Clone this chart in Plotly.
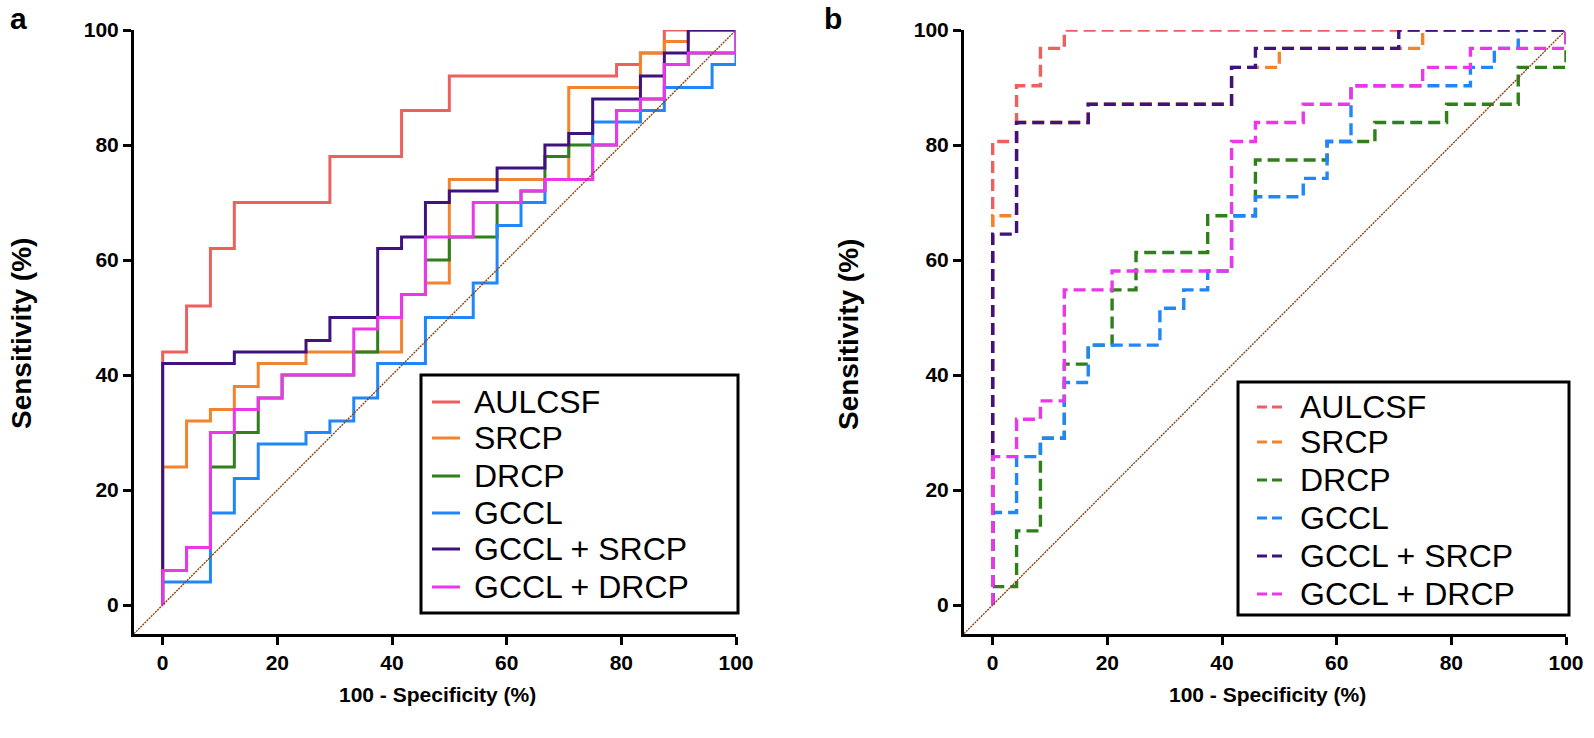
import plotly.graph_objects as go

W, H = 1594, 738

# ---------------- data ----------------
names = ["AULCSF", "SRCP", "DRCP", "GCCL", "GCCL + SRCP", "GCCL + DRCP"]
colors = ["#EE605E", "#F3832C", "#2F7F1B", "#1F87FA", "#3E1380", "#EC36EC"]

# panel a  (x = 100 - specificity %, y = sensitivity %)
a_aulcsf_x = [0, 0, 4.17, 8.33, 12.5, 29.17, 41.67, 50, 79.17, 83.33, 87.5, 100]
a_aulcsf_y = [0, 44, 52, 62, 70, 78, 86, 92, 94, 96, 100, 100]
a_srcp_x = [0, 0, 4.17, 8.33, 12.5, 16.67, 25, 41.67, 45.83, 50, 70.83, 83.33, 87.5, 91.67, 100]
a_srcp_y = [0, 24, 32, 34, 38, 42, 44, 54, 56, 74, 90, 96, 98, 100, 100]
a_drcp_x = [0, 0, 4.17, 8.33, 12.5, 16.67, 20.83, 33.33, 37.5, 41.67, 45.83, 50, 58.33, 62.5, 66.67, 70.83, 79.17, 83.33, 87.5, 91.67, 100]
a_drcp_y = [0, 6, 10, 24, 30, 36, 40, 44, 50, 54, 60, 64, 70, 72, 78, 80, 86, 88, 94, 96, 100]
a_gccl_x = [0, 0, 8.33, 12.5, 16.67, 25, 29.17, 33.33, 37.5, 45.83, 54.17, 58.33, 62.5, 66.67, 75, 83.33, 87.5, 95.83, 100, 100]
a_gccl_y = [0, 4, 16, 22, 28, 30, 32, 36, 42, 50, 56, 66, 70, 74, 84, 86, 90, 94, 96, 100]
a_gs_x = [0, 0, 12.5, 25, 29.17, 37.5, 41.67, 45.83, 50, 58.33, 66.67, 70.83, 75, 83.33, 87.5, 91.67, 100]
a_gs_y = [0, 42, 44, 46, 50, 62, 64, 70, 72, 76, 80, 82, 88, 92, 96, 100, 100]
a_gd_x = [0, 0, 4.17, 8.33, 12.5, 16.67, 20.83, 33.33, 37.5, 41.67, 45.83, 54.17, 62.5, 66.67, 75, 79.17, 83.33, 87.5, 91.67, 100]
a_gd_y = [0, 6, 10, 30, 34, 36, 40, 48, 50, 54, 64, 70, 72, 74, 80, 86, 88, 94, 96, 100]

# panel b
b_aulcsf_x = [0, 0, 4.17, 8.33, 12.5, 100]
b_aulcsf_y = [0, 80.6, 90.3, 96.8, 100, 100]
b_srcp_x = [0, 0, 4.17, 16.67, 41.67, 50, 75, 100]
b_srcp_y = [0, 67.7, 83.9, 87.1, 93.5, 96.8, 100, 100]
b_drcp_x = [0, 0, 4.17, 8.33, 12.5, 16.67, 20.83, 25, 37.5, 45.83, 58.33, 66.67, 79.17, 91.67, 100]
b_drcp_y = [0, 3.2, 12.9, 29.0, 41.9, 45.2, 54.8, 61.3, 67.7, 77.4, 80.6, 83.9, 87.1, 93.5, 100]
b_gccl_x = [0, 0, 4.17, 8.33, 12.5, 16.67, 29.17, 33.33, 37.5, 41.67, 45.83, 54.17, 58.33, 62.5, 83.33, 87.5, 91.67, 100]
b_gccl_y = [0, 16.1, 25.8, 29.0, 38.7, 45.2, 51.6, 54.8, 58.1, 67.7, 71.0, 74.2, 80.6, 90.3, 93.5, 96.8, 100, 100]
b_gs_x = [0, 0, 4.17, 16.67, 41.67, 45.83, 70.83, 100]
b_gs_y = [0, 64.5, 83.9, 87.1, 93.5, 96.8, 100, 100]
b_gd_x = [0, 0, 4.17, 8.33, 12.5, 20.83, 41.67, 45.83, 54.17, 62.5, 75, 83.33, 100]
b_gd_y = [0, 25.8, 32.3, 35.5, 54.8, 58.1, 80.6, 83.9, 87.1, 90.3, 93.5, 96.8, 100]

ref_x = [-5, 100]
ref_y = [-5, 100]

tick_vals = [0, 20, 40, 60, 80, 100]
x_title = "100 - Specificity (%)"
y_title = "Sensitivity (%)"
panel_labels = ["a", "b"]

panel_a = [(a_aulcsf_x, a_aulcsf_y), (a_srcp_x, a_srcp_y), (a_drcp_x, a_drcp_y),
           (a_gccl_x, a_gccl_y), (a_gs_x, a_gs_y), (a_gd_x, a_gd_y)]
panel_b = [(b_aulcsf_x, b_aulcsf_y), (b_srcp_x, b_srcp_y), (b_drcp_x, b_drcp_y),
           (b_gccl_x, b_gccl_y), (b_gs_x, b_gs_y), (b_gd_x, b_gd_y)]

FONT = "Liberation Sans, Arial, Helvetica, sans-serif"
DASH = "12px,6px"

fig = go.Figure()

for (xs, ys), name, c in zip(panel_a, names, colors):
    fig.add_trace(go.Scatter(x=xs, y=ys, mode="lines", name=name, line=dict(color=c, width=3, shape="hv"),
                             xaxis="x", yaxis="y", showlegend=False, hoverinfo="skip"))
fig.add_trace(go.Scatter(x=ref_x, y=ref_y, mode="lines", line=dict(color="#8B4513", width=1.4, dash="2px,1px"),
                         xaxis="x", yaxis="y", showlegend=False, hoverinfo="skip"))

for (xs, ys), name, c in zip(panel_b, names, colors):
    fig.add_trace(go.Scatter(x=xs, y=ys, mode="lines", name=name, line=dict(color=c, width=3.4, shape="hv", dash=DASH),
                             xaxis="x2", yaxis="y2", showlegend=False, hoverinfo="skip"))
fig.add_trace(go.Scatter(x=ref_x, y=ref_y, mode="lines", line=dict(color="#8B4513", width=1.4, dash="2px,1px"),
                         xaxis="x2", yaxis="y2", showlegend=False, hoverinfo="skip"))


def px(X):
    return X / W


def py(Y):
    return 1 - Y / H


ax_common = dict(range=[-5, 100], showline=True, linecolor="black", linewidth=3, ticks="outside",
                 ticklen=8, tickwidth=3, tickcolor="black", showgrid=False, zeroline=False,
                 tickvals=tick_vals, tickfont=dict(family=FONT, size=21, color="black", weight="bold"),
                 mirror=False, automargin=False, fixedrange=True)

xa_dom = [px(134), px(736)]
xb_dom = [px(964), px(1566)]
y_dom = [py(633.75), py(30)]

fig.update_layout(
    width=W, height=H, margin=dict(l=0, r=0, t=0, b=0, pad=0, autoexpand=False),
    paper_bgcolor="white", plot_bgcolor="white", showlegend=False,
    xaxis=dict(domain=xa_dom, anchor="y", **ax_common),
    yaxis=dict(domain=y_dom, anchor="x", **ax_common),
    xaxis2=dict(domain=xb_dom, anchor="y2", **ax_common),
    yaxis2=dict(domain=y_dom, anchor="x2", **ax_common),
)

annotations = []
shapes = []
# axis titles and panel labels
for dom, lab, lx in [(xa_dom, panel_labels[0], 18), (xb_dom, panel_labels[1], 833)]:
    annotations.append(dict(text=x_title, x=(dom[0] + dom[1]) / 2 + 2 / W, y=py(694), xref="paper", yref="paper",
                            showarrow=False, xanchor="center", yanchor="middle",
                            font=dict(family=FONT, size=21, color="black", weight="bold")))
    annotations.append(dict(text=lab, x=px(lx), y=py(18), xref="paper", yref="paper", showarrow=False,
                            xanchor="center", yanchor="middle",
                            font=dict(family=FONT, size=30, color="black", weight="bold")))
for X in [21, 848]:
    annotations.append(dict(text=y_title, x=px(X), y=py(334), xref="paper", yref="paper",
                            showarrow=False, textangle=-90, xanchor="center", yanchor="middle",
                            font=dict(family=FONT, size=28, color="black", weight="bold")))

# manual legends (box, line samples, labels)
legends = [
    dict(box=(421, 375, 738, 613), line=(432, 460), text_x=472, rows=[402, 438, 476, 513, 549, 587], dash=None),
    dict(box=(1238, 382, 1569, 615), line=(1257, 1287), text_x=1298, rows=[407, 442, 480, 518, 556, 594], dash="10px,5px"),
]
for lg in legends:
    x0, y0, x1, y1 = lg["box"]
    shapes.append(dict(type="rect", xref="paper", yref="paper", x0=px(x0), x1=px(x1), y0=py(y1), y1=py(y0),
                       line=dict(color="black", width=3), fillcolor="white", layer="above"))
    for name, c, Y in zip(names, colors, lg["rows"]):
        ln = dict(color=c, width=3)
        if lg["dash"]:
            ln["dash"] = lg["dash"]
        shapes.append(dict(type="line", xref="paper", yref="paper", x0=px(lg["line"][0]), x1=px(lg["line"][1]),
                           y0=py(Y), y1=py(Y), line=ln, layer="above"))
        annotations.append(dict(text=name, x=px(lg["text_x"]), y=py(Y), xref="paper", yref="paper",
                                showarrow=False, xanchor="left", yanchor="middle",
                                font=dict(family=FONT, size=32, color="black")))

fig.update_layout(annotations=annotations, shapes=shapes)
fig.write_html("out.html", config={"displayModeBar": False, "responsive": False},
               post_script="document.body.style.margin='0';document.body.style.overflow='hidden';"
                           "document.documentElement.style.overflow='hidden';")
